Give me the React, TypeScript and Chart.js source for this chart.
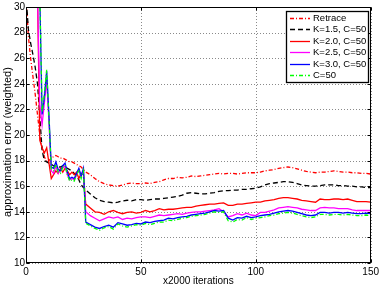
import React, { useEffect, useRef } from 'react';
import { Chart, registerables } from 'chart.js';

Chart.register(...registerables);

// x positions (in units of 2000 iterations)
const X = [
  0, 1, 2, 3, 4, 5, 6, 7, 8, 9,
  10, 11, 12, 13, 14, 15, 16, 17, 18, 19,
  20, 21, 22, 23, 24, 25,
  26, 28, 30, 32, 34, 36, 38, 40, 42, 44,
  46, 48, 50, 52, 54, 56, 58, 60, 62, 64,
  66, 68, 70, 72, 74, 76, 78, 80, 82, 84,
  86, 88, 90, 92, 94, 96, 98, 100, 102, 104,
  106, 108, 110, 112, 114, 116, 118, 120, 122, 124,
  126, 128, 130, 132, 134, 136, 138, 140, 142, 144,
  146, 148, 150,
];

const RETRACE = [
  31, 27.8, 26.0, 24.6, 23.2, 21.6, 20.0, 19.0, 18.3, 17.9,
  18.0, 18.2, 18.3, 18.4, 18.3, 18.2, 18.2, 18.1, 18.0, 17.9,
  17.9, 17.8, 17.7, 17.6, 17.5, 17.3,
  17.1, 16.9, 16.6, 16.35, 16.2, 16.1, 16.05, 16.0, 16.1, 16.2,
  16.25, 16.2, 16.2, 16.25, 16.2, 16.3, 16.35, 16.5, 16.6, 16.6,
  16.7, 16.65, 16.7, 16.8, 16.75, 16.8, 16.85, 16.9, 16.95, 17.0,
  16.95, 17.0, 17.0, 16.95, 17.0, 17.05, 17.05, 17.05, 17.1, 17.2,
  17.25, 17.3, 17.4, 17.45, 17.5, 17.45, 17.35, 17.25, 17.15, 17.1,
  17.05, 17.1, 17.1, 17.15, 17.2, 17.15, 17.1, 17.1, 17.05, 17.05,
  17.0, 17.0, 16.95,
];

const K15 = [
  31, 28.3, 27.2, 26.3, 25.3, 24.0, 21.5, 18.8, 18.0, 17.9,
  17.8, 17.7, 17.6, 17.5, 17.5, 17.5, 17.6, 17.5, 17.4, 17.3,
  17.2, 17.0, 16.8, 16.5, 16.1, 15.9,
  15.7, 15.4, 15.1, 14.9, 14.8, 14.75, 14.7, 14.75, 14.85, 14.9,
  14.85, 14.95, 14.95, 14.9, 14.95, 15.0, 15.0, 15.05, 15.1, 15.15,
  15.2, 15.3, 15.45, 15.5, 15.45, 15.4, 15.4, 15.45, 15.5, 15.6,
  15.65, 15.65, 15.7, 15.7, 15.75, 15.75, 15.8, 15.85, 15.95, 16.1,
  16.2, 16.25, 16.3, 16.35, 16.35, 16.3, 16.2, 16.1, 16.05, 16.0,
  16.0, 16.05, 16.1, 16.1, 16.1, 16.05, 16.05, 16.0, 16.0, 15.95,
  15.95, 15.9, 15.9,
];

const K20 = [
  31, 31, 31, 31, 31, 31, 19.6, 19.0, 18.6, 19.0,
  17.8, 16.6, 16.9, 17.2, 17.0, 17.4, 17.1, 17.4, 17.2, 16.9,
  17.1, 16.9, 17.1, 16.6, 17.0, 16.9,
  14.6, 14.3, 14.0, 13.95, 13.8, 14.0, 14.1, 13.95, 13.85, 13.95,
  14.0, 13.9, 13.95, 14.1, 14.0, 14.1, 14.25, 14.15, 14.2, 14.2,
  14.25, 14.3, 14.35, 14.35, 14.45, 14.5, 14.55, 14.6, 14.6, 14.65,
  14.7, 14.5, 14.5, 14.6, 14.6, 14.65, 14.7, 14.75, 14.75, 14.85,
  14.9, 14.95, 15.05, 15.1, 15.1, 15.05, 15.0, 14.9, 14.85, 14.8,
  14.75, 15.0, 14.95, 14.95, 15.0, 15.0, 14.95, 15.0, 14.9, 14.8,
  14.8, 14.8, 14.75,
];

const K25 = [
  31, 31, 31, 31, 31, 31, 22.4, 20.8, 22.5, 24.3,
  21.0, 17.2, 17.0, 17.6, 17.0, 17.3, 17.4, 17.6, 16.9, 16.5,
  16.6, 16.5, 16.9, 17.3, 16.8, 17.2,
  14.0, 13.7, 13.5, 13.3, 13.45, 13.6, 13.5, 13.6, 13.4, 13.5,
  13.45, 13.55, 13.6, 13.6, 13.55, 13.65, 13.75, 13.7, 13.75, 13.8,
  13.85, 13.8, 13.9, 13.95, 14.0, 14.0, 14.05, 14.1, 14.15, 14.25,
  14.0, 13.6, 13.7, 13.85, 13.75, 13.9, 13.75, 13.7, 13.95, 13.95,
  14.05, 14.15, 14.3, 14.35, 14.4, 14.35, 14.3, 14.2, 14.15, 14.1,
  14.1, 14.3, 14.35, 14.3, 14.3, 14.25, 14.25, 14.25, 14.15, 14.1,
  14.1, 14.1, 14.1,
];

const K30 = [
  31, 31, 31, 31, 31, 31, 31, 21.6, 23.0, 25.0,
  21.5, 17.5, 17.4, 17.9, 17.3, 17.2, 17.6, 17.8, 17.1, 16.6,
  16.7, 16.6, 17.0, 17.4, 16.8, 17.4,
  13.2, 13.0, 12.8, 12.7, 12.85, 12.95, 12.8, 13.15, 13.05, 12.95,
  13.0, 13.1, 13.05, 13.2, 13.15, 13.25, 13.3, 13.35, 13.5, 13.45,
  13.55, 13.6, 13.65, 13.75, 13.8, 13.85, 13.9, 14.0, 14.1, 14.05,
  14.1, 13.5, 13.35, 13.55, 13.5, 13.65, 13.55, 13.6, 13.7, 13.75,
  13.8, 13.9, 14.0, 14.05, 14.1, 14.05, 13.95, 13.85, 13.75, 13.7,
  13.75, 13.95, 13.95, 13.9, 13.95, 13.95, 13.9, 13.95, 13.9, 13.85,
  13.85, 13.9, 13.85,
];

const C50 = [
  31, 31, 31, 31, 31, 31, 31, 21.8, 23.2, 25.1,
  21.3, 17.3, 17.2, 17.7, 17.1, 17.0, 17.5, 17.6, 16.9, 16.4,
  16.5, 16.4, 16.9, 17.2, 16.6, 17.2,
  13.1, 12.9, 12.7, 12.55, 12.75, 12.85, 12.65, 13.05, 12.9, 12.8,
  12.9, 13.0, 12.95, 13.1, 13.0, 13.1, 13.2, 13.2, 13.35, 13.3,
  13.4, 13.5, 13.55, 13.65, 13.7, 13.75, 13.8, 13.9, 14.0, 13.95,
  14.0, 13.3, 13.2, 13.4, 13.35, 13.55, 13.4, 13.5, 13.55, 13.6,
  13.7, 13.75, 13.85, 13.9, 13.95, 13.9, 13.8, 13.7, 13.6, 13.55,
  13.6, 13.8, 13.8, 13.75, 13.8, 13.8, 13.75, 13.8, 13.75, 13.7,
  13.7, 13.75, 13.7,
];

const LABELS = ['Retrace', 'K=1.5, C=50', 'K=2.0, C=50', 'K=2.5, C=50', 'K=3.0, C=50', 'C=50'];
const X_TITLE = 'x2000 iterations';
const Y_TITLE = 'approximation error (weighted)';
const X_TICKS_STEP = 50;
const Y_TICKS_STEP = 2;
const Y_MIN = 10;
const Y_MAX = 30;
const X_MIN = 0;
const X_MAX = 150;

const FONT = '"Liberation Sans", Arial, Helvetica, sans-serif';

const toPoints = (ys: number[]) => {
  const n = Math.min(X.length, ys.length);
  const out: { x: number; y: number }[] = [];
  for (let i = 0; i < n; i++) out.push({ x: X[i], y: ys[i] });
  return out;
};

const framePlugin = {
  id: 'matlabFrame',
  beforeDatasetsDraw(chart: any) {
    const { ctx, chartArea, scales } = chart;
    const { left, right, top, bottom } = chartArea;
    ctx.save();
    ctx.strokeStyle = '#8a8a8a';
    ctx.lineWidth = 1;
    ctx.setLineDash([1, 2]);
    scales.x.ticks.forEach((t: any) => {
      const px = Math.round(scales.x.getPixelForValue(t.value)) + 0.5;
      ctx.beginPath();
      ctx.moveTo(px, top);
      ctx.lineTo(px, bottom);
      ctx.stroke();
    });
    scales.y.ticks.forEach((t: any) => {
      const py = Math.round(scales.y.getPixelForValue(t.value)) + 0.5;
      ctx.beginPath();
      ctx.moveTo(left, py);
      ctx.lineTo(right, py);
      ctx.stroke();
    });
    ctx.restore();
  },
  afterDatasetsDraw(chart: any) {
    const { ctx, chartArea, scales } = chart;
    const { left, right, top, bottom } = chartArea;
    ctx.save();
    ctx.strokeStyle = '#000';
    ctx.lineWidth = 1;
    ctx.setLineDash([]);
    const L = Math.round(left) + 0.5;
    const R = Math.round(right) - 0.5;
    const T = Math.round(top) + 0.5;
    const B = Math.round(bottom) - 0.5;
    ctx.strokeRect(L, T, R - L, B - T);
    const tl = 3;
    ctx.beginPath();
    scales.x.ticks.forEach((t: any) => {
      const px = Math.round(scales.x.getPixelForValue(t.value)) + 0.5;
      ctx.moveTo(px, B);
      ctx.lineTo(px, B - tl);
      ctx.moveTo(px, T);
      ctx.lineTo(px, T + tl);
    });
    scales.y.ticks.forEach((t: any) => {
      const py = Math.round(scales.y.getPixelForValue(t.value)) + 0.5;
      ctx.moveTo(L, py);
      ctx.lineTo(L + tl, py);
      ctx.moveTo(R, py);
      ctx.lineTo(R - tl, py);
    });
    ctx.stroke();

    // y-axis title, drawn rotated beside the y scale
    ctx.fillStyle = '#000';
    ctx.font = `11px ${FONT}`;
    ctx.textAlign = 'center';
    ctx.textBaseline = 'middle';
    ctx.translate(8, (top + bottom) / 2 + 7);
    ctx.rotate(-Math.PI / 2);
    ctx.fillText(Y_TITLE, 0, 0);
    ctx.restore();
  },
};

const legendPlugin = {
  id: 'boxLegend',
  afterDraw(chart: any) {
    const { ctx, chartArea } = chart;
    const w = 82;
    const h = 71;
    const x0 = Math.round(chartArea.right - 3 - w);
    const y0 = Math.round(chartArea.top + 4);
    ctx.save();
    ctx.fillStyle = '#fff';
    ctx.fillRect(x0, y0, w, h);
    ctx.strokeStyle = '#000';
    ctx.lineWidth = 1.3;
    ctx.setLineDash([]);
    ctx.strokeRect(x0 + 0.5, y0 + 0.5, w, h);
    chart.data.datasets.forEach((ds: any, i: number) => {
      const y = Math.round(y0 + 7 + i * 11.4) + 0.5;
      ctx.beginPath();
      ctx.setLineDash(ds.borderDash || []);
      ctx.strokeStyle = ds.borderColor;
      ctx.lineWidth = ds.borderWidth;
      ctx.moveTo(x0 + 4, y);
      ctx.lineTo(x0 + 24, y);
      ctx.stroke();
      ctx.setLineDash([]);
      ctx.fillStyle = '#000';
      ctx.font = `9.5px ${FONT}`;
      ctx.textBaseline = 'middle';
      ctx.textAlign = 'left';
      ctx.fillText(ds.label, x0 + 27, y);
    });
    ctx.restore();
  },
};

export default function App() {
  const ref = useRef<HTMLCanvasElement>(null);

  useEffect(() => {
    if (!ref.current) return;
    const styles = [
      { color: '#ff0000', dash: [4, 2, 1, 2] },
      { color: '#000000', dash: [5, 3] },
      { color: '#ff0000', dash: [] },
      { color: '#ff00ff', dash: [] },
      { color: '#0000ff', dash: [] },
      { color: '#00ff00', dash: [4, 2, 1, 2] },
    ];
    const series = [RETRACE, K15, K20, K25, K30, C50];
    const datasets = series.map((s, i) => ({
      label: LABELS[i],
      data: toPoints(s),
      borderColor: styles[i].color,
      backgroundColor: styles[i].color,
      borderDash: styles[i].dash,
      borderWidth: 1.3,
      pointRadius: 0,
      tension: 0,
      fill: false,
      order: series.length - i,
    }));

    const chart = new Chart(ref.current, {
      type: 'line',
      data: { datasets },
      options: {
        animation: false,
        responsive: false,
        devicePixelRatio: 1,
        layout: { padding: { top: 5, right: 9, left: 0, bottom: 0 } },
        plugins: { legend: { display: false }, tooltip: { enabled: false } },
        scales: {
          x: {
            type: 'linear',
            min: X_MIN,
            max: X_MAX,
            ticks: {
              stepSize: X_TICKS_STEP,
              color: '#000',
              font: { family: FONT, size: 10 },
              padding: 3,
              maxRotation: 0,
            },
            grid: { display: false, drawTicks: false },
            border: { display: false },
            title: {
              display: true,
              text: X_TITLE,
              color: '#000',
              font: { family: FONT, size: 10 },
              padding: { top: 0, bottom: 0 },
            },
            afterFit: (s: any) => {
              s.height = 24;
            },
          },
          y: {
            type: 'linear',
            min: Y_MIN,
            max: Y_MAX,
            ticks: {
              stepSize: Y_TICKS_STEP,
              color: '#000',
              font: { family: FONT, size: 10 },
              padding: 1,
            },
            grid: { display: false, drawTicks: false },
            border: { display: false },
            title: { display: false },
            afterFit: (s: any) => {
              s.width = 26;
            },
          },
        },
      },
      plugins: [framePlugin, legendPlugin],
    } as any);
    return () => chart.destroy();
  }, []);

  return (
    <div style={{ position: 'fixed', left: 0, top: 0, width: 382, height: 287, background: '#fff' }}>
      <canvas ref={ref} width={382} height={287} style={{ display: 'block', width: 382, height: 287 }} />
    </div>
  );
}
